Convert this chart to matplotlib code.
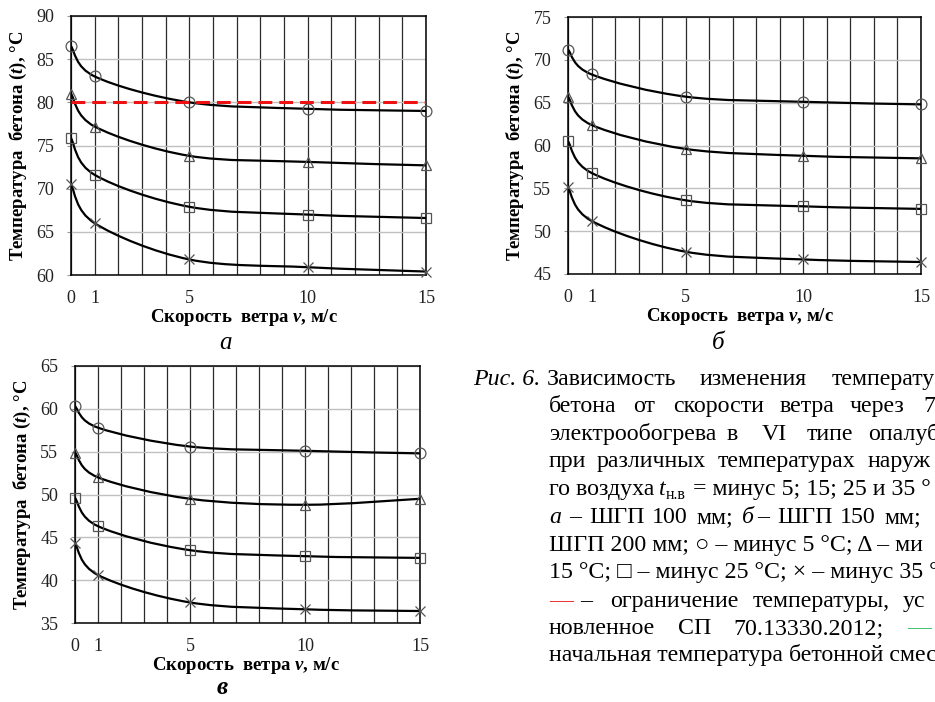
import numpy as np
import matplotlib.pyplot as plt
from matplotlib.path import Path
from matplotlib.patches import PathPatch

plt.rcParams['font.family'] = ['Liberation Serif', 'DejaVu Serif']
plt.rcParams['mathtext.fontset'] = 'custom'
plt.rcParams['mathtext.rm'] = 'Liberation Serif'
plt.rcParams['mathtext.it'] = 'Liberation Serif:italic'
plt.rcParams['mathtext.bf'] = 'Liberation Serif:bold'
plt.rcParams['mathtext.bfit'] = 'Liberation Serif:bold:italic'

# Скорость ветра, м/с
wind = [0, 1, 5, 10, 15]

# а – ШГП 100 мм
a_m5 = [86.5, 83.0, 80.0, 79.25, 79.0]
a_m15 = [81.0, 77.2, 73.8, 73.1, 72.7]
a_m25 = [75.85, 71.6, 67.9, 67.0, 66.6]
a_m35 = [70.5, 66.0, 61.8, 60.9, 60.4]
limit_a = 80

# б – ШГП 150 мм
b_m5 = [71.2, 68.3, 65.7, 65.1, 64.8]
b_m15 = [65.7, 62.4, 59.6, 58.8, 58.5]
b_m25 = [60.5, 56.8, 53.6, 52.9, 52.6]
b_m35 = [55.1, 51.2, 47.6, 46.7, 46.4]

# в – ШГП 200 мм
c_m5 = [60.3, 57.8, 55.6, 55.1, 54.8]
c_m15 = [54.9, 52.0, 49.5, 48.8, 49.5]
c_m25 = [49.6, 46.3, 43.5, 42.8, 42.6]
c_m35 = [44.3, 40.6, 37.4, 36.6, 36.4]

W, H = 935, 702
fig = plt.figure(figsize=(W / 100, H / 100), dpi=100)


def px_axes(l, t, r, b):
    return fig.add_axes([l / W, 1 - b / H, (r - l) / W, (b - t) / H])


def smooth_path(x, y):
    # сглаженная линия как в Excel (кривые Безье)
    p = np.column_stack([x, y]).astype(float)
    n = len(p)
    verts = [p[0]]
    codes = [Path.MOVETO]
    for i in range(n - 1):
        p0 = p[i - 1] if i > 0 else p[i]
        p3 = p[i + 2] if i + 2 < n else p[i + 1]
        c1 = p[i] + (p[i + 1] - p0) / 6
        c2 = p[i + 1] - (p3 - p[i]) / 6
        verts += [c1, c2, p[i + 1]]
        codes += [Path.CURVE4] * 3
    return Path(verts, codes)


def panel(ax, series, ylim, xlab_shift):
    markers = ['o', '^', 's', 'x']
    for vals, m in zip(series, markers):
        ax.add_patch(PathPatch(smooth_path(wind, vals), facecolor='none',
                               edgecolor='black', lw=1.6, zorder=3))
        ax.plot(wind, vals, ls='none', marker=m, ms=7.8, mfc='none',
                mec='#555555', mew=0.9, zorder=4, clip_on=False)
    ax.set_xlim(0, 15)
    ax.set_ylim(*ylim)
    ax.set_xticks(wind)
    ax.set_xticks(range(16), minor=True)
    ax.set_yticks(np.arange(ylim[0], ylim[1] + 1, 5))
    ax.grid(which='both', axis='x', color='#2a2a2a', lw=0.9, zorder=1)
    ax.grid(which='major', axis='y', color='#c0c0c0', lw=1.0, zorder=1)
    ax.set_axisbelow(True)
    ax.tick_params(axis='x', which='both', length=0, pad=11, labelsize=13,
                   labelcolor='#222222')
    ax.tick_params(axis='y', length=3, color='#999999', pad=9,
                   labelsize=13, labelcolor='#222222')
    for s in ax.spines.values():
        s.set_color('black')
        s.set_linewidth(1.1)
    ax.set_xlabel(r'Скорость  ветра $\mathbfit{v}$, м/с', fontsize=13.5,
                  fontweight='bold', labelpad=0)
    ax.set_ylabel(r'Температура  бетона ($\mathbfit{t}$), °C', fontsize=13.5,
                  fontweight='bold', labelpad=5)
    bw = ax.get_position().width * W
    ax.xaxis.label.set_x(0.5 + xlab_shift / bw)


ax_a = px_axes(71, 16, 426, 275)
panel(ax_a, [a_m5, a_m15, a_m25, a_m35], (60, 90), -5)
ax_a.plot([wind[0], wind[-1]], [limit_a, limit_a], color='#ee1111', lw=2.2,
          dashes=(4.5, 2.3), zorder=5)

ax_b = px_axes(568, 17, 921, 274)
panel(ax_b, [b_m5, b_m15, b_m25, b_m35], (45, 75), -5)

ax_c = px_axes(75, 366, 420, 623)
panel(ax_c, [c_m5, c_m15, c_m25, c_m35], (35, 65), -2)

# подписи панелей
fig.text(225 / W, 1 - 343 / H, 'а', fontsize=18, style='italic',
         ha='center', va='center')
fig.text(718 / W, 1 - 343 / H, 'б', fontsize=18, style='italic',
         ha='center', va='center')
fig.text(222 / W, 1 - 688 / H, 'в', fontsize=18, style='italic',
         fontweight='bold', ha='center', va='center')

# подпись к рисунку (выровнена по ширине, справа обрезана)
cs = 17.2


def ctext(x, y, s, **kw):
    kw.setdefault('fontsize', cs)
    fig.text(x / W, 1 - y / H, s, ha='left', va='baseline', **kw)


ctext(473, 385, 'Рис. 6.', style='italic')
for x, w in [(547, 'Зависимость'), (700, 'изменения'), (832, 'температу')]:
    ctext(x, 385, w)
for x, w in [(549, 'бетона'), (633, 'от'), (673, 'скорости'), (780, 'ветра'),
             (850, 'через'), (923, '7')]:
    ctext(x, 412, w)
for x, w in [(549, 'электрообогрева'), (727, 'в'), (762, 'VI'), (807, 'типе'),
             (868, 'опалуб')]:
    ctext(x, 440, w)
for x, w in [(549, 'при'), (597, 'различных'), (718, 'температурах'),
             (868, 'наруж')]:
    ctext(x, 467, w)
ctext(549, 495, 'го воздуха')
ctext(659, 495, 't', style='italic')
ctext(666, 499, 'н.в', fontsize=11.5)
ctext(693, 495, '= минус 5; 15; 25 и 35 °')
ctext(549, 523, 'а', style='italic')
for x, w in [(569, '–'), (589, 'ШГП'), (652, '100'), (696, 'мм;')]:
    ctext(x, 523, w)
ctext(742, 523, 'б', style='italic')
for x, w in [(757, '–'), (777, 'ШГП'), (840, '150'), (884, 'мм;')]:
    ctext(x, 523, w)
ctext(549, 551, 'ШГП 200 мм; ○ – минус 5 °C; Δ – ми')
ctext(549, 578, '15 °C; □ – минус 25 °C; × – минус 35 °')
ctext(549, 607, '—', color='#ee2222')
for x, w in [(580, '–'), (610, 'ограничение'), (753, 'температуры,'),
             (903, 'ус')]:
    ctext(x, 607, w)
for x, w in [(549, 'новленное'), (678, 'СП'), (733, '70.13330.2012;')]:
    ctext(x, 634, w)
ctext(907, 634, '—', color='#33bb66')
ctext(549, 661, 'начальная температура бетонной смес')

fig.savefig('out.png', dpi=100)
